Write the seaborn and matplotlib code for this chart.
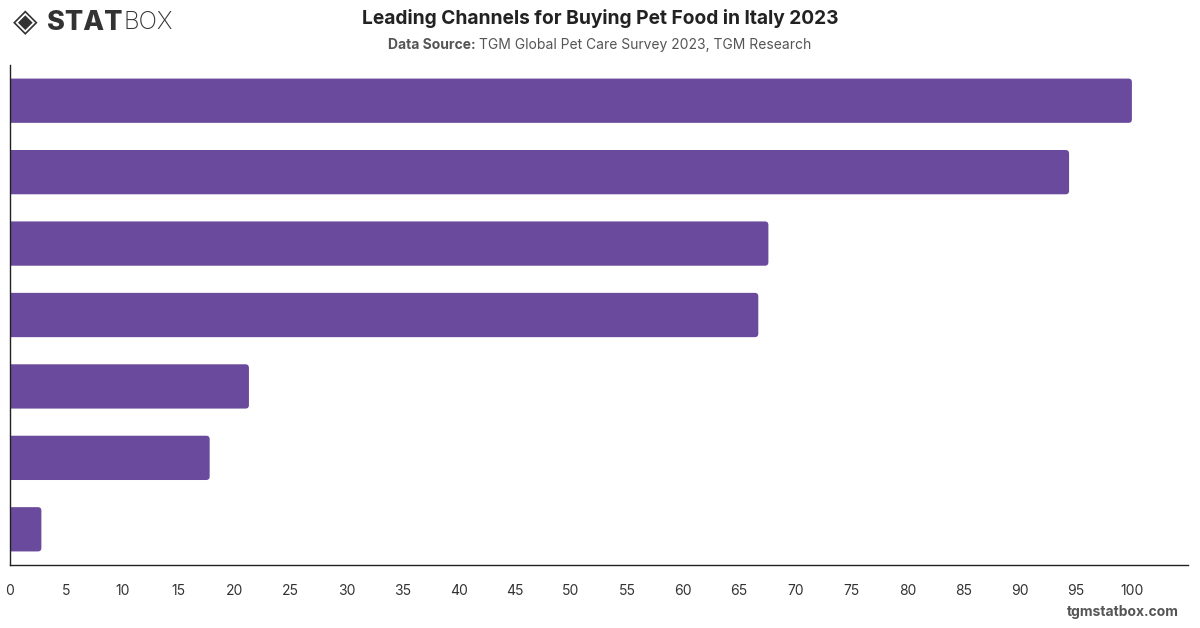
import matplotlib
matplotlib.use("Agg")
import matplotlib.pyplot as plt
from matplotlib.patches import FancyBboxPatch
import pandas as pd
import seaborn as sns

# data (channel names are not printed on the chart)
channels = ["Channel 1", "Channel 2", "Channel 3", "Channel 4",
            "Channel 5", "Channel 6", "Channel 7"]
shares = [100.0, 94.4, 67.6, 66.7, 21.3, 17.8, 2.8]
x_ticks = list(range(0, 101, 5))

df = pd.DataFrame({"channel": channels, "share": shares})

sns.set_theme(style="white")
plt.rcParams['font.family'] = ['Inter', 'DejaVu Sans']

fig = plt.figure(figsize=(12, 6.28), dpi=100)
ax = fig.add_axes([0.0083, 0.1003, 0.9817, 0.7962])

sns.barplot(data=df, x="share", y="channel", orient="h", color="#6A4A9C",
            saturation=1, width=0.62, ax=ax)

ax.set_xlim(0, 105)
ax.set_ylim(6.5, -0.5)

# swap bars for slightly rounded ones (left end starts off-axis so it stays square)
px_x = 1178 / 105.0   # pixels per x unit
px_y = 500 / 7.0      # pixels per y unit
for p in list(ax.patches):
    x, y = p.get_x(), p.get_y()
    w, h = p.get_width(), p.get_height()
    r = 3.5 / px_x
    rb = FancyBboxPatch((x - 0.5, y), w + 0.5, h,
                        boxstyle=f"round,pad=0,rounding_size={r}",
                        mutation_aspect=px_x / px_y,
                        facecolor=p.get_facecolor(), edgecolor="none",
                        clip_on=True)
    p.remove()
    ax.add_patch(rb)

ax.set_xticks(x_ticks)
ax.set_xticklabels([str(t) for t in x_ticks], fontsize=10, color="#333333")
ax.set_yticks([])
ax.set_xlabel("")
ax.set_ylabel("")
ax.tick_params(axis="x", length=0, pad=14)
for s in ["top", "right"]:
    ax.spines[s].set_visible(False)
for s in ["left", "bottom"]:
    ax.spines[s].set_color("#222222")
    ax.spines[s].set_linewidth(1)
    ax.spines[s].set_zorder(5)

# title and source
fig.text(0.5, 0.971, "Leading Channels for Buying Pet Food in Italy 2023",
         ha="center", va="center", fontsize=13.8, fontweight="bold", color="#222222")
t1 = fig.text(0.5, 0.929, "Data Source: ", ha="left", va="center",
              fontsize=10, fontweight="bold", color="#555555")
t2 = fig.text(0.5, 0.929, "TGM Global Pet Care Survey 2023, TGM Research",
              ha="left", va="center", fontsize=10, color="#555555")

# logo
fig.text(0.011, 0.964, "◈", ha="left", va="center", fontsize=23,
         color="#333333", family="DejaVu Sans")
logo1 = fig.text(0.039, 0.964, "STAT", ha="left", va="center", fontsize=19.5,
                 fontweight="heavy", color="#333333")
logo2 = fig.text(0.0985, 0.964, "BOX", ha="left", va="center", fontsize=17.5,
                 fontweight="light", color="#333333")

# centre the two-part source line, butt BOX against STAT
fig.canvas.draw()
rend = fig.canvas.get_renderer()
w1 = t1.get_window_extent(rend).width
w2 = t2.get_window_extent(rend).width
x_start = (1200 - w1 - w2) / 2
t1.set_position((x_start / 1200, 0.929))
t2.set_position(((x_start + w1) / 1200, 0.929))
stat_end = logo1.get_window_extent(rend).x1
logo2.set_position(((stat_end + 1) / 1200, 0.964))

fig.text(0.982, 0.025, "tgmstatbox.com", ha="right", va="center",
         fontsize=10, fontweight="bold", color="#555555")

fig.savefig("out.png", dpi=100)
